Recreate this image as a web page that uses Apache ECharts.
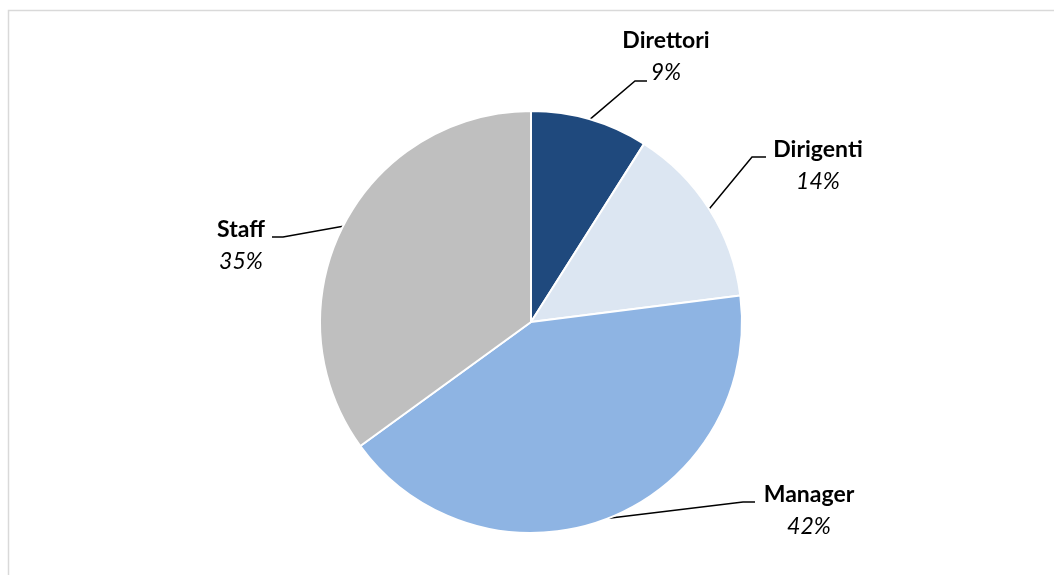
<!DOCTYPE html>
<html>
<head>
<meta charset="utf-8">
<script src="https://cdn.jsdelivr.net/npm/echarts@6/dist/echarts.min.js"></script>
<style>
  html, body { margin: 0; padding: 0; background: #ffffff; }
  #chart { width: 1054px; height: 575px; }
</style>
</head>
<body>
<div id="chart"></div>
<script>
// Workforce composition by role (percent of total)
const categories = ['Direttori', 'Dirigenti', 'Manager', 'Staff'];
const shares = [9, 14, 42, 35];
const sliceColors = ['#1f497d', '#dce6f2', '#8eb4e3', '#bfbfbf'];

// Where each callout sits, with the elbow and end of its leader line
const callouts = [
  { x: 666, y: 57,  elbow: [635, 81],  end: [647, 81] },
  { x: 818, y: 166, elbow: [752, 157], end: [766, 157] },
  { x: 809, y: 511, elbow: [743, 502], end: [755, 502] },
  { x: 241, y: 246, elbow: [283, 237], end: [272, 237] }
];

const center = [531, 322];
const radius = 211;

const chart = echarts.init(document.getElementById('chart'), null, { renderer: 'canvas' });

const fontFamily = 'Lato, "Open Sans", sans-serif';

chart.setOption({
  animation: false,
  backgroundColor: '#ffffff',
  graphic: [{
    type: 'rect',
    shape: { x: 8.5, y: 10.5, width: 1100, height: 620 },
    style: { fill: 'none', stroke: '#d9d9d9', lineWidth: 1.5 },
    silent: true
  }],
  series: [{
    type: 'pie',
    center: center,
    radius: radius,
    startAngle: 90,
    clockwise: true,
    data: categories.map((name, i) => ({
      name: name,
      value: shares[i],
      itemStyle: { color: sliceColors[i] }
    })),
    itemStyle: { borderColor: '#ffffff', borderWidth: 2 },
    label: {
      show: true,
      position: 'outside',
      formatter: p => '{n|' + p.name + '}\n{p|' + p.value + '%}',
      rich: {
        n: { fontFamily: fontFamily, fontSize: 23, fontWeight: 'bold', color: '#000000', lineHeight: 32, align: 'center' },
        p: { fontFamily: fontFamily, fontSize: 23, fontStyle: 'italic', color: '#000000', lineHeight: 32, align: 'center' }
      }
    },
    labelLine: {
      show: true,
      length: 20,
      length2: 10,
      lineStyle: { color: '#000000', width: 1.5 }
    },
    labelLayout: function (params) {
      const c = callouts[params.dataIndex];
      // start of the leader: slice mid-angle on the rim
      let start;
      if (params.labelLinePoints && params.labelLinePoints[0]) {
        start = params.labelLinePoints[0];
      } else {
        let before = 0;
        for (let k = 0; k < params.dataIndex; k++) before += shares[k];
        const total = shares.reduce((a, b) => a + b, 0);
        const mid = (before + shares[params.dataIndex] / 2) / total * Math.PI * 2;
        start = [center[0] + radius * Math.sin(mid), center[1] - radius * Math.cos(mid)];
      }
      return {
        x: c.x,
        y: c.y,
        align: 'center',
        verticalAlign: 'middle',
        labelLinePoints: [start, c.elbow, c.end]
      };
    }
  }]
});
</script>
</body>
</html>
